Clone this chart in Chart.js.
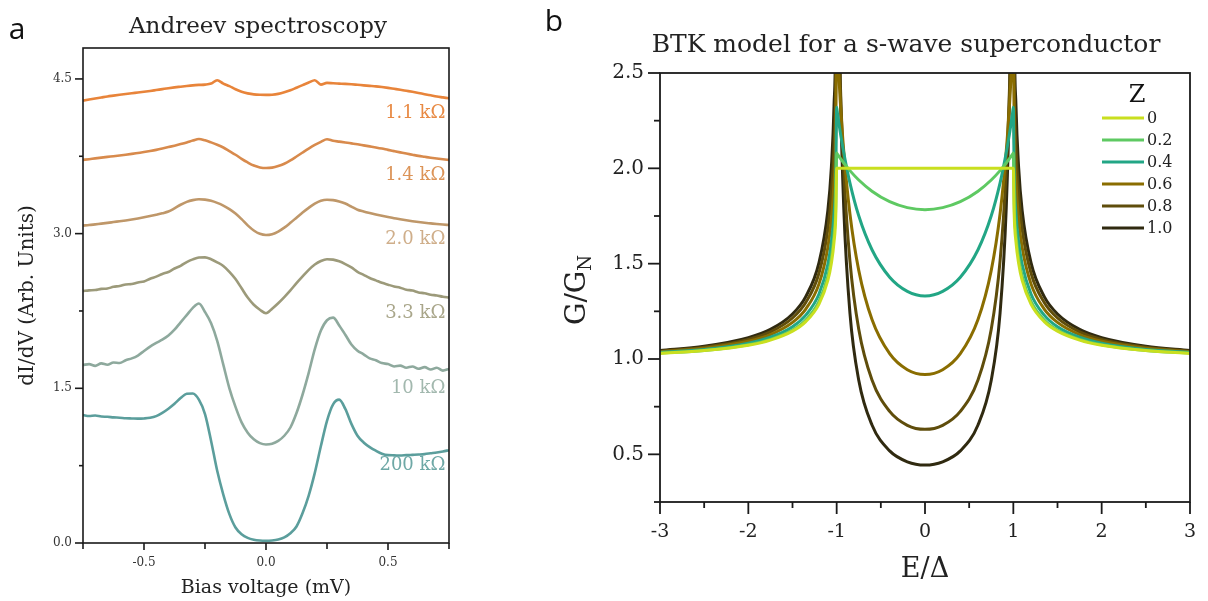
<!DOCTYPE html>
<html><head><meta charset="utf-8">
<script src="https://cdn.jsdelivr.net/npm/chart.js@4.4.1/dist/chart.umd.min.js"></script>
<style>
html,body{margin:0;padding:0;background:#fff;width:1208px;height:601px;overflow:hidden}
#ca{position:absolute;left:0;top:0}
#cb{position:absolute;left:540px;top:0}
</style></head><body>
<canvas id="ca" width="470" height="601"></canvas>
<canvas id="cb" width="668" height="601"></canvas>
<script>
// ---------- Panel a: Andreev spectroscopy ----------
const biasVoltage = [-0.75,-0.725,-0.7,-0.675,-0.65,-0.625,-0.6,-0.575,-0.55,-0.525,-0.5,-0.475,-0.45,-0.425,-0.4,-0.375,-0.35,-0.325,-0.3,-0.275,-0.25,-0.225,-0.2,-0.175,-0.15,-0.125,-0.1,-0.075,-0.05,-0.025,0,0.025,0.05,0.075,0.1,0.125,0.15,0.175,0.2,0.225,0.25,0.275,0.3,0.325,0.35,0.375,0.4,0.425,0.45,0.475,0.5,0.525,0.55,0.575,0.6,0.625,0.65,0.675,0.7,0.725,0.75];
const resistanceLabels = ['1.1 kΩ','1.4 kΩ','2.0 kΩ','3.3 kΩ','10 kΩ','200 kΩ'];
const didv_1k1 = [4.290,4.300,4.310,4.320,4.330,4.338,4.346,4.354,4.361,4.368,4.375,4.383,4.392,4.401,4.410,4.418,4.425,4.432,4.438,4.442,4.445,4.455,4.488,4.455,4.430,4.400,4.375,4.360,4.350,4.346,4.345,4.347,4.355,4.370,4.390,4.415,4.440,4.465,4.488,4.445,4.462,4.458,4.455,4.452,4.448,4.443,4.438,4.433,4.428,4.421,4.413,4.404,4.395,4.385,4.375,4.364,4.352,4.341,4.330,4.321,4.312];
const didv_1k4 = [3.715,3.722,3.730,3.737,3.744,3.751,3.758,3.765,3.773,3.782,3.791,3.801,3.812,3.825,3.839,3.853,3.868,3.884,3.902,3.918,3.905,3.885,3.862,3.835,3.800,3.765,3.725,3.690,3.660,3.642,3.636,3.640,3.655,3.678,3.710,3.748,3.787,3.825,3.860,3.890,3.915,3.900,3.892,3.884,3.875,3.866,3.856,3.846,3.836,3.825,3.812,3.800,3.788,3.776,3.765,3.754,3.745,3.736,3.728,3.721,3.715];
const didv_2k0 = [3.078,3.083,3.090,3.097,3.104,3.112,3.120,3.128,3.137,3.147,3.158,3.170,3.183,3.197,3.214,3.245,3.280,3.308,3.325,3.333,3.330,3.318,3.298,3.272,3.238,3.195,3.140,3.080,3.030,2.998,2.987,2.995,3.020,3.058,3.105,3.155,3.205,3.250,3.290,3.318,3.328,3.325,3.312,3.292,3.262,3.232,3.215,3.200,3.186,3.173,3.161,3.150,3.139,3.129,3.120,3.112,3.105,3.099,3.093,3.088,3.084];
const didv_3k3 = [2.444,2.450,2.453,2.464,2.468,2.484,2.492,2.507,2.511,2.527,2.536,2.562,2.583,2.609,2.628,2.662,2.688,2.724,2.750,2.768,2.770,2.752,2.722,2.686,2.630,2.560,2.470,2.380,2.310,2.262,2.228,2.272,2.325,2.385,2.450,2.520,2.585,2.648,2.700,2.735,2.752,2.748,2.732,2.705,2.672,2.630,2.600,2.570,2.547,2.523,2.505,2.488,2.476,2.456,2.448,2.430,2.422,2.408,2.400,2.388,2.380];
const didv_10k = [1.726,1.735,1.718,1.742,1.728,1.750,1.745,1.772,1.790,1.818,1.862,1.905,1.940,1.972,2.012,2.068,2.140,2.210,2.280,2.322,2.240,2.130,1.960,1.730,1.500,1.320,1.170,1.070,1.005,0.968,0.955,0.962,0.990,1.040,1.120,1.260,1.440,1.650,1.880,2.060,2.160,2.185,2.110,2.020,1.925,1.865,1.830,1.790,1.772,1.745,1.735,1.712,1.720,1.700,1.712,1.690,1.705,1.682,1.700,1.672,1.688];
const didv_200k = [1.241,1.232,1.236,1.226,1.224,1.218,1.215,1.210,1.208,1.206,1.208,1.214,1.230,1.262,1.302,1.350,1.405,1.448,1.450,1.390,1.250,0.990,0.700,0.470,0.280,0.150,0.085,0.050,0.032,0.024,0.022,0.025,0.034,0.055,0.095,0.160,0.290,0.460,0.680,0.940,1.185,1.345,1.390,1.300,1.155,1.040,0.975,0.930,0.895,0.866,0.852,0.850,0.848,0.852,0.855,0.858,0.862,0.870,0.878,0.888,0.900];
const seriesA = [didv_1k1, didv_1k4, didv_2k0, didv_3k3, didv_10k, didv_200k];
const lineColorsA = ['#e8843a','#d88a4c','#bf9769','#9c9a7a','#8ea99d','#5b9e9c'];
const labelColorsA = ['#e88a44','#dc9458','#cfae8a','#a9a68a','#a2b8ae','#6ea8a6'];
const labelLevelsA = [4.17, 3.57, 2.94, 2.23, 1.50, 0.75];

// ---------- Panel b: BTK model ----------
const energy = [-3,-2.5,-2,-1.75,-1.5,-1.35,-1.2,-1.1,-1.06,-1.03,-1.01,-1,-0.99,-0.96,-0.92,-0.85,-0.75,-0.6,-0.4,-0.2,0,0.2,0.4,0.6,0.75,0.85,0.92,0.96,0.99,1,1.01,1.03,1.06,1.1,1.2,1.35,1.5,1.75,2,2.5,3];
const zLabels = ['0','0.2','0.4','0.6','0.8','1.0'];
const gZ00 = [1.029,1.044,1.072,1.099,1.146,1.196,1.288,1.412,1.502,1.613,1.754,2.0,2.0,2.0,2.0,2.0,2.0,2.0,2.0,2.0,2.0,2.0,2.0,2.0,2.0,2.0,2.0,2.0,2.0,2.0,1.754,1.613,1.502,1.412,1.288,1.196,1.146,1.099,1.072,1.044,1.029];
const gZ02 = [1.031,1.045,1.075,1.103,1.152,1.205,1.302,1.435,1.531,1.652,1.806,2.08,2.073,2.053,2.028,1.988,1.939,1.880,1.825,1.794,1.783,1.794,1.825,1.880,1.939,1.988,2.028,2.053,2.073,2.08,1.806,1.652,1.531,1.435,1.302,1.205,1.152,1.103,1.075,1.045,1.031];
const gZ04 = [1.034,1.050,1.083,1.114,1.169,1.230,1.341,1.497,1.614,1.763,1.957,2.32,2.286,2.192,2.083,1.924,1.751,1.573,1.429,1.355,1.331,1.355,1.429,1.573,1.751,1.924,2.083,2.192,2.286,2.32,1.957,1.763,1.614,1.497,1.341,1.230,1.169,1.114,1.083,1.050,1.034];
const gZ06 = [1.038,1.056,1.093,1.128,1.192,1.262,1.394,1.585,1.732,1.926,2.191,2.72,2.618,2.358,2.091,1.762,1.465,1.207,1.028,0.944,0.919,0.944,1.028,1.207,1.465,1.762,2.091,2.358,2.618,2.72,2.191,1.926,1.732,1.585,1.394,1.262,1.192,1.128,1.093,1.056,1.038];
const gZ08 = [1.041,1.062,1.103,1.142,1.215,1.296,1.451,1.682,1.868,2.121,2.485,3.28,3.027,2.468,1.994,1.515,1.156,0.890,0.725,0.652,0.631,0.652,0.725,0.890,1.156,1.515,1.994,2.468,3.027,3.28,2.485,2.121,1.868,1.682,1.451,1.296,1.215,1.142,1.103,1.062,1.041];
const gZ10 = [1.045,1.067,1.112,1.155,1.236,1.327,1.505,1.778,2.005,2.327,2.815,4.0,3.451,2.458,1.795,1.242,0.889,0.654,0.518,0.461,0.444,0.461,0.518,0.654,0.889,1.242,1.795,2.458,3.451,4.0,2.815,2.327,2.005,1.778,1.505,1.327,1.236,1.155,1.112,1.067,1.045];
const seriesB = [gZ00, gZ02, gZ04, gZ06, gZ08, gZ10];
const lineColorsB = ['#c9df1f','#5ec962','#22a685','#8a6d00','#5f4d0b','#302a10'];

// ---------- helpers ----------
const SERIF = "'DejaVu Serif', serif";
function isMult(v, s){ const r = v / s; return Math.abs(r - Math.round(r)) < 1e-6; }
function stepFilter(step){ return (scale) => { scale.ticks = scale.ticks.filter(t => isMult(t.value, step)); }; }

const frameTicks = {
  id: 'frameTicks',
  afterDatasetsDraw(chart, args, o) {
    const {ctx, chartArea: ca} = chart;
    ctx.save();
    ctx.strokeStyle = o.color; ctx.lineWidth = o.width; ctx.lineCap = 'butt';
    ['x','y'].forEach(id => {
      const s = chart.scales[id]; const c = o[id];
      s.ticks.forEach(t => {
        const len = isMult(t.value, c.major) ? c.majLen : c.minLen;
        const p = s.getPixelForValue(t.value);
        ctx.beginPath();
        if (id === 'x') { ctx.moveTo(p, ca.bottom); ctx.lineTo(p, ca.bottom + len); }
        else { ctx.moveTo(ca.left, p); ctx.lineTo(ca.left - len, p); }
        ctx.stroke();
      });
    });
    ctx.strokeRect(ca.left, ca.top, ca.right - ca.left, ca.bottom - ca.top);
    ctx.restore();
  }
};

const textPlugin = {
  id: 'texts',
  afterDraw(chart, args, o) {
    const ctx = chart.ctx;
    ctx.save();
    (o.items || []).forEach(it => {
      ctx.font = it.font; ctx.fillStyle = it.color || '#222';
      ctx.textAlign = it.align || 'center'; ctx.textBaseline = 'middle';
      ctx.fillText(it.text, it.x, it.y);
    });
    if (o.draw) o.draw(chart, ctx);
    ctx.restore();
  }
};

// ---------- Chart a ----------
new Chart(document.getElementById('ca'), {
  type: 'line',
  data: {
    datasets: seriesA.map((arr, i) => ({
      label: resistanceLabels[i],
      data: biasVoltage.map((x, j) => ({x: x, y: arr[j]})),
      borderColor: lineColorsA[i],
      borderWidth: 2.6,
      pointRadius: 0,
      cubicInterpolationMode: 'monotone',
      fill: false
    }))
  },
  options: {
    responsive: false, animation: false, devicePixelRatio: 1,
    layout: {padding: {top: 48, right: 21, left: 0, bottom: 0}},
    plugins: {
      legend: {display: false}, tooltip: {enabled: false},
      frameTicks: {color: '#1a1a1a', width: 1.6,
        x: {major: 0.5, majLen: 7, minLen: 6},
        y: {major: 1.5, majLen: 8, minLen: 4}},
      texts: {
        items: [
          {text: 'a', x: 17, y: 30, font: "30px 'Open Sans', sans-serif", color: '#111'},
          {text: 'Andreev spectroscopy', x: 258, y: 27, font: '23px ' + SERIF, color: '#222'}
        ],
        draw(chart, ctx) {
          const xs = chart.scales.x, ys = chart.scales.y;
          ctx.font = '18px ' + SERIF; ctx.textAlign = 'right'; ctx.textBaseline = 'middle';
          resistanceLabels.forEach((t, i) => {
            ctx.fillStyle = labelColorsA[i];
            ctx.fillText(t, xs.getPixelForValue(0.735), ys.getPixelForValue(labelLevelsA[i]));
          });
        }
      }
    },
    scales: {
      x: {
        type: 'linear', min: -0.75, max: 0.75,
        afterBuildTicks: stepFilter(0.25),
        afterFit: s => { s.height = 58; },
        ticks: {stepSize: 0.25, autoSkip: false, maxRotation: 0, padding: 5, color: '#333',
          font: {family: SERIF, size: 12},
          callback: v => isMult(v, 0.5) ? v.toFixed(1) : ''},
        grid: {drawOnChartArea: false, drawTicks: true, tickLength: 8, color: 'rgba(0,0,0,0)'},
        border: {display: false},
        title: {display: true, text: 'Bias voltage (mV)', color: '#222', font: {family: SERIF, size: 19}, padding: {top: 0, bottom: 2}}
      },
      y: {
        type: 'linear', min: 0, max: 4.8,
        afterBuildTicks: stepFilter(0.75),
        afterFit: s => { s.width = 83; },
        ticks: {stepSize: 0.75, autoSkip: false, padding: 3, color: '#333',
          font: {family: SERIF, size: 12},
          callback: v => isMult(v, 1.5) ? v.toFixed(1) : ''},
        grid: {drawOnChartArea: false, drawTicks: true, tickLength: 8, color: 'rgba(0,0,0,0)'},
        border: {display: false},
        title: {display: true, text: 'dI/dV (Arb. Units)', color: '#222', font: {family: SERIF, size: 20}, padding: {top: 16, bottom: 0}}
      }
    }
  },
  plugins: [frameTicks, textPlugin]
});

// ---------- Chart b ----------
new Chart(document.getElementById('cb'), {
  type: 'line',
  data: {
    datasets: seriesB.map((arr, i) => ({
      label: zLabels[i],
      data: energy.map((x, j) => ({x: x, y: arr[j]})),
      borderColor: lineColorsB[i],
      borderWidth: 3,
      pointRadius: 0,
      cubicInterpolationMode: 'monotone',
      fill: false
    }))
  },
  options: {
    responsive: false, animation: false, devicePixelRatio: 1,
    layout: {padding: {top: 73, right: 18, left: 0, bottom: 0}},
    plugins: {
      legend: {display: false}, tooltip: {enabled: false},
      frameTicks: {color: '#1a1a1a', width: 1.8,
        x: {major: 1, majLen: 12, minLen: 6},
        y: {major: 0.5, majLen: 12, minLen: 6}},
      texts: {
        items: [
          {text: 'b', x: 14, y: 22, font: "30px 'Open Sans', sans-serif", color: '#111'},
          {text: 'BTK model for a s-wave superconductor', x: 366, y: 45, font: '25px ' + SERIF, color: '#222'}
        ],
        draw(chart, ctx) {
          // legend
          const lx0 = 562, lx1 = 604, tx = 607;
          ctx.fillStyle = '#111'; ctx.textAlign = 'center'; ctx.textBaseline = 'middle';
          ctx.font = '24px ' + SERIF;
          ctx.fillText('Z', 597, 96);
          ctx.font = '16px ' + SERIF; ctx.textAlign = 'left';
          zLabels.forEach((z, i) => {
            const y = 118 + i * 22;
            ctx.strokeStyle = lineColorsB[i]; ctx.lineWidth = 3;
            ctx.beginPath(); ctx.moveTo(lx0, y); ctx.lineTo(lx1, y); ctx.stroke();
            ctx.fillStyle = '#222';
            ctx.fillText(z, tx, y + 1);
          });
          // y axis title G/G_N
          ctx.save();
          ctx.translate(38, 290); ctx.rotate(-Math.PI / 2);
          ctx.fillStyle = '#222'; ctx.textBaseline = 'middle'; ctx.textAlign = 'left';
          ctx.font = '28px ' + SERIF;
          const main = 'G/G'; const wm = ctx.measureText(main).width;
          ctx.font = '18px ' + SERIF;
          const ws = ctx.measureText('N').width;
          const start = -(wm + ws) / 2;
          ctx.font = '28px ' + SERIF;
          ctx.fillText(main, start, 0);
          ctx.font = '18px ' + SERIF;
          ctx.fillText('N', start + wm, 8);
          ctx.restore();
        }
      }
    },
    scales: {
      x: {
        type: 'linear', min: -3, max: 3,
        afterBuildTicks: stepFilter(0.5),
        afterFit: s => { s.height = 99; },
        ticks: {stepSize: 0.5, autoSkip: false, maxRotation: 0, padding: 7, color: '#222',
          font: {family: SERIF, size: 19},
          callback: v => isMult(v, 1) ? String(Math.round(v)) : ''},
        grid: {drawOnChartArea: false, drawTicks: true, tickLength: 12, color: 'rgba(0,0,0,0)'},
        border: {display: false},
        title: {display: true, text: 'E/Δ', color: '#222', font: {family: SERIF, size: 27}, padding: {top: 0, bottom: 15}}
      },
      y: {
        type: 'linear', min: 0.25, max: 2.5,
        afterBuildTicks: stepFilter(0.25),
        afterFit: s => { s.width = 120; },
        ticks: {stepSize: 0.25, autoSkip: false, padding: 4, color: '#222',
          font: {family: SERIF, size: 20},
          callback: v => isMult(v, 0.5) ? v.toFixed(1) : ''},
        grid: {drawOnChartArea: false, drawTicks: true, tickLength: 12, color: 'rgba(0,0,0,0)'},
        border: {display: false},
        title: {display: false}
      }
    }
  },
  plugins: [frameTicks, textPlugin]
});
</script>
</body></html>
